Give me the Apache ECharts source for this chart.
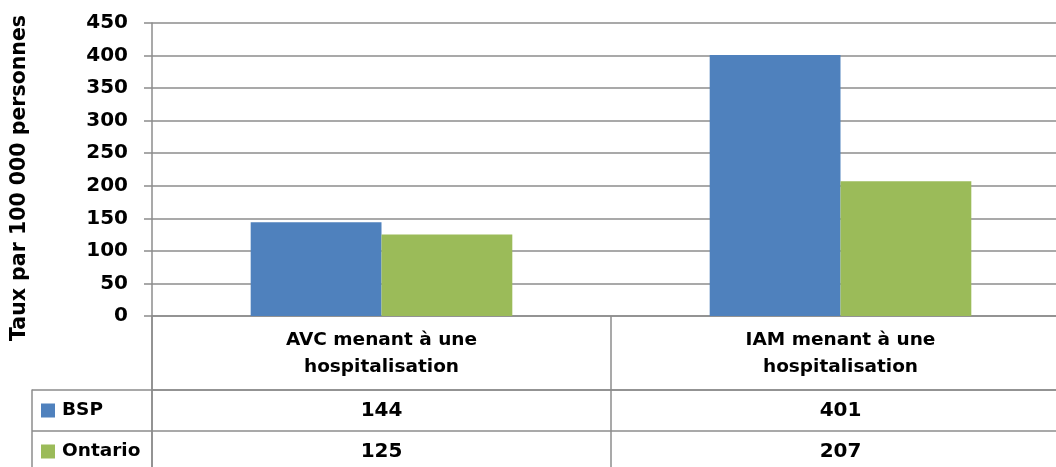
<!DOCTYPE html>
<html>
<head>
<meta charset="utf-8">
<script src="https://cdn.jsdelivr.net/npm/echarts@6/dist/echarts.min.js"></script>
<style>
  html, body { margin: 0; padding: 0; background: #fff; }
  #chart { width: 1056px; height: 467px; }
</style>
</head>
<body>
<div id="chart"></div>
<script>
const categories = ['AVC menant à une\nhospitalisation', 'IAM menant à une\nhospitalisation']
const seriesNames = ['BSP', 'Ontario']
const bspValues = [144, 401]
const ontarioValues = [125, 207]
const colors = ['#4F81BD', '#9BBB59']

const FONT = 'DejaVu Sans'
const lineColor = '#8c8c8c'

// table cells: [column, row, value]
const tableCells = []
;[bspValues, ontarioValues].forEach((vals, r) => {
  vals.forEach((v, c) => tableCells.push([c, r, v]))
})

const chart = echarts.init(document.getElementById('chart'))

chart.setOption({
  animation: false,
  grid: [
    { left: 152, width: 918, top: 23, height: 293, outerBoundsMode: 'none' },
    { left: 152, width: 918, top: 316, height: 74, outerBoundsMode: 'none' },
    { left: 152, width: 918, top: 390, height: 82, outerBoundsMode: 'none' },
  ],
  xAxis: [
    {
      type: 'category',
      gridIndex: 0,
      data: categories,
      axisLine: { show: true, lineStyle: { color: lineColor, width: 1.5 } },
      axisTick: { show: false },
      axisLabel: {
        margin: 11,
        fontFamily: FONT, fontWeight: 'bold', fontSize: 18.5, color: '#000',
        lineHeight: 27,
      },
    },
    {
      type: 'category',
      gridIndex: 1,
      data: categories,
      axisLine: { show: false },
      axisTick: { show: false },
      axisLabel: { show: false },
      splitLine: { show: true, lineStyle: { color: lineColor, width: 1.5 } },
    },
    {
      type: 'category',
      gridIndex: 2,
      position: 'top',
      data: categories,
      axisLine: { show: true, lineStyle: { color: lineColor, width: 1.5 } },
      axisTick: { show: false },
      axisLabel: { show: false },
      splitLine: { show: true, lineStyle: { color: lineColor, width: 1.5 } },
    },
  ],
  yAxis: [
    {
      type: 'value',
      gridIndex: 0,
      min: 0,
      max: 450,
      interval: 50,
      name: 'Taux par 100 000 personnes',
      nameLocation: 'middle',
      nameRotate: 90,
      nameGap: 122,
      nameTextStyle: {
        fontFamily: FONT, fontWeight: 'bold', fontSize: 20.5, color: '#000',
        padding: [0, 17, 0, 0],
      },
      axisLine: { show: true, lineStyle: { color: lineColor, width: 1.5 } },
      axisTick: { show: true, length: 8, lineStyle: { color: lineColor, width: 1.5 } },
      axisLabel: { margin: 24, fontFamily: FONT, fontWeight: 'bold', fontSize: 20, color: '#000' },
      splitLine: { show: true, lineStyle: { color: lineColor, width: 1.5 } },
    },
    {
      type: 'value',
      gridIndex: 1,
      axisLine: { show: true, lineStyle: { color: lineColor, width: 1.5 } },
      axisTick: { show: false },
      axisLabel: { show: false },
      splitLine: { show: false },
    },
    {
      type: 'category',
      gridIndex: 2,
      inverse: true,
      data: seriesNames,
      axisLine: { show: true, lineStyle: { color: lineColor, width: 1.5 } },
      axisTick: { show: true, length: 120, lineStyle: { color: lineColor, width: 1.5 } },
      splitLine: { show: true, lineStyle: { color: lineColor, width: 1.5 } },
      axisLabel: {
        align: 'left',
        margin: 111,
        formatter: (v, i) => `{sq${i}|}{t|${v}}`,
        rich: {
          sq0: { width: 14, height: 14, backgroundColor: colors[0] },
          sq1: { width: 14, height: 14, backgroundColor: colors[1] },
          t: { fontFamily: FONT, fontWeight: 'bold', fontSize: 18.5, color: '#000', padding: [0, 0, 0, 7] },
        },
      },
    },
    {
      type: 'category',
      gridIndex: 2,
      position: 'left',
      offset: 120,
      data: seriesNames,
      axisLine: { show: true, lineStyle: { color: lineColor, width: 1.5 } },
      axisTick: { show: false },
      axisLabel: { show: false },
      splitLine: { show: false },
    },
  ],
  series: [
    {
      name: seriesNames[0],
      type: 'bar',
      xAxisIndex: 0,
      yAxisIndex: 0,
      data: bspValues,
      barGap: '0%',
      barCategoryGap: '43%',
      itemStyle: { color: colors[0] },
    },
    {
      name: seriesNames[1],
      type: 'bar',
      xAxisIndex: 0,
      yAxisIndex: 0,
      data: ontarioValues,
      barGap: '0%',
      barCategoryGap: '43%',
      itemStyle: { color: colors[1] },
    },
    {
      // data table values, placed at (column, row) through the table axes
      type: 'custom',
      xAxisIndex: 2,
      yAxisIndex: 2,
      data: tableCells,
      silent: true,
      renderItem: (params, api) => {
        const pt = api.coord([api.value(0), api.value(1)])
        return {
          type: 'text',
          x: pt[0],
          y: pt[1],
          style: {
            text: String(api.value(2)),
            fill: '#000',
            font: `bold 20px "${FONT}"`,
            align: 'center',
            verticalAlign: 'middle',
          },
        }
      },
    },
  ],
})
</script>
</body>
</html>
